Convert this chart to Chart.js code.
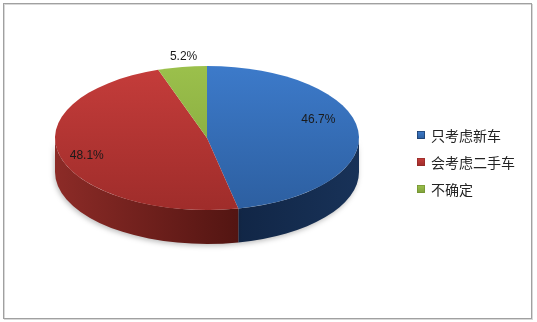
<!DOCTYPE html>
<html>
<head>
<meta charset="utf-8">
<script src="https://cdn.jsdelivr.net/npm/chart.js@4/dist/chart.umd.min.js"></script>
<style>
  html, body { margin: 0; padding: 0; background: #fff; }
  canvas { display: block; }
</style>
</head>
<body>
<canvas id="pie" width="537" height="322"></canvas>
<script>
// data
const labels = ['只考虑新车', '会考虑二手车', '不确定'];
const shares = [46.7, 48.1, 5.2];

// colours: top face (light, dark), side wall (left, right)
const topColors = [['#3d7bcb', '#2c5e9f'], ['#c63d3b', '#9e2c2a'], ['#9cc14c', '#7ea03a']];
const wallColors = [['#183258', '#112646'], ['#8c2b27', '#531512'], ['#6f8d30', '#4f6a20']];

// 3d look
const TILT = 72 / 152;  // ellipse ry / rx
const CY = 138;         // centre of the top face on screen
const DEPTH = 34;

function arcProps(arc) {
    return arc.getProps(['x', 'y', 'startAngle', 'endAngle', 'outerRadius'], true);
}

const pie3d = {
    id: 'pie3d',
    beforeDraw(chart) {
        const ctx = chart.ctx;
        ctx.save();
        ctx.strokeStyle = '#d8d8d8';
        ctx.strokeRect(4.5, 4.5, 528, 315);
        ctx.strokeStyle = '#a0a0a0';
        ctx.strokeRect(3.5, 3.5, 528, 315);
        ctx.restore();
    },
    beforeDatasetsDraw(chart) {
        const ctx = chart.ctx;
        const arcs = chart.getDatasetMeta(0).data;
        // side walls, only the front half is visible
        arcs.forEach((arc, i) => {
            const p = arcProps(arc);
            const a = Math.max(p.startAngle, 0);
            const b = Math.min(p.endAngle, Math.PI);
            if (b <= a) return;
            const rx = p.outerRadius, ry = rx * TILT;
            const g = ctx.createLinearGradient(p.x - rx, 0, p.x + rx, 0);
            g.addColorStop(0, wallColors[i][0]);
            g.addColorStop(0.6, wallColors[i][1]);
            g.addColorStop(1, wallColors[i][0]);
            ctx.save();
            ctx.shadowColor = 'rgba(0,0,0,0.25)';
            ctx.shadowBlur = 5;
            ctx.shadowOffsetX = -1;
            ctx.shadowOffsetY = 2;
            ctx.fillStyle = g;
            ctx.beginPath();
            ctx.ellipse(p.x, CY, rx, ry, 0, a, b);
            ctx.ellipse(p.x, CY + DEPTH, rx, ry, 0, b, a, true);
            ctx.closePath();
            ctx.fill();
            ctx.restore();
        });
        // flatten the top face
        const c = arcProps(arcs[0]);
        ctx.save();
        ctx.translate(0, CY);
        ctx.scale(1, TILT);
        ctx.translate(0, -c.y);
    },
    afterDatasetsDraw(chart) {
        const ctx = chart.ctx;
        ctx.restore();
        const arcs = chart.getDatasetMeta(0).data;
        // value labels: [radius fraction, extra dx, extra dy]
        const place = [[0.73, 1, -13], [0.82, 0, 2], [1.15, 5, 0]];
        ctx.save();
        ctx.font = '12px "Liberation Sans", Arial, sans-serif';
        ctx.fillStyle = '#1a1a1a';
        ctx.textAlign = 'center';
        ctx.textBaseline = 'middle';
        arcs.forEach((arc, i) => {
            const p = arcProps(arc);
            const mid = (p.startAngle + p.endAngle) / 2;
            const r = p.outerRadius * place[i][0];
            const x = p.x + r * Math.cos(mid) + place[i][1];
            const y = CY + r * TILT * Math.sin(mid) + place[i][2];
            ctx.fillText(shares[i].toFixed(1) + '%', x, y);
        });
        // legend
        ctx.textAlign = 'left';
        ctx.font = '14px "Noto Sans CJK SC", sans-serif';
        labels.forEach((lab, i) => {
            const y = 135 + i * 27;
            const g = ctx.createLinearGradient(0, y - 4, 0, y + 4);
            g.addColorStop(0, topColors[i][0]);
            g.addColorStop(1, topColors[i][1]);
            ctx.fillStyle = g;
            ctx.fillRect(417, y - 4, 8, 8);
            ctx.strokeStyle = wallColors[i][0];
            ctx.lineWidth = 0.6;
            ctx.strokeRect(417.5, y - 3.5, 7, 7);
            ctx.fillStyle = '#222';
            ctx.fillText(lab, 431, y + 1);
        });
        ctx.restore();
    }
};

function topFill(context) {
    const i = context.dataIndex;
    const chart = context.chart;
    const area = chart.chartArea;
    if (!area) return topColors[i][0];
    const g = chart.ctx.createLinearGradient(0, area.top, 0, area.bottom);
    g.addColorStop(0, topColors[i][0]);
    g.addColorStop(1, topColors[i][1]);
    return g;
}

new Chart(document.getElementById('pie'), {
    type: 'pie',
    data: {
        labels: labels,
        datasets: [{
            data: shares,
            backgroundColor: topFill,
            borderWidth: 0
        }]
    },
    options: {
        responsive: false,
        animation: false,
        layout: { padding: { left: 55, right: 178, top: 0, bottom: 0 } },
        plugins: {
            legend: { display: false },
            tooltip: { enabled: false }
        }
    },
    plugins: [pie3d]
});
</script>
</body>
</html>
